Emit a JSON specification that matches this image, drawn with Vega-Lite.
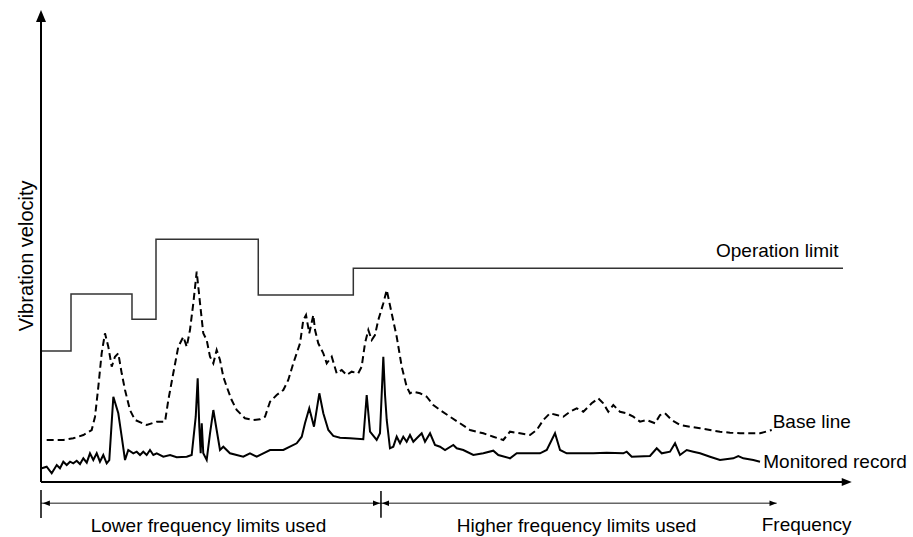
{
  "$schema": "https://vega.github.io/schema/vega-lite/v6.json",
  "width": 811,
  "height": 472,
  "autosize": {"type": "none"},
  "padding": {"left": 41, "top": 10, "right": 61, "bottom": 55},
  "background": "white",
  "config": {"view": {"stroke": null}},
  "datasets": {
    "limit": [
      {"f": 0, "v": 27.75}, {"f": 3.70, "v": 39.83}, {"f": 11.22, "v": 34.47},
      {"f": 14.18, "v": 51.42}, {"f": 26.79, "v": 39.62}, {"f": 38.51, "v": 45.28},
      {"f": 98.89, "v": 45.28}
    ],
    "baseline": [
      {"f":0.70,"v":8.90},{"f":2.75,"v":8.90},{"f":3.98,"v":9.26},{"f":5.22,"v":9.96},{"f":6.25,"v":11.02},
      {"f":6.66,"v":13.83},{"f":7.07,"v":20.19},{"f":7.48,"v":27.27},{"f":7.89,"v":31.50},{"f":8.30,"v":28.67},
      {"f":8.72,"v":24.43},{"f":9.12,"v":26.55},{"f":9.53,"v":27.27},{"f":9.95,"v":23.03},{"f":10.36,"v":19.49},
      {"f":10.97,"v":15.25},{"f":11.59,"v":13.14},{"f":13.03,"v":12.08},{"f":14.27,"v":12.78},{"f":15.29,"v":12.78},
      {"f":15.70,"v":17.37},{"f":16.31,"v":23.03},{"f":16.93,"v":28.67},{"f":17.55,"v":30.78},{"f":17.97,"v":28.67},
      {"f":18.37,"v":32.20},{"f":18.78,"v":37.86},{"f":19.20,"v":44.56},{"f":19.61,"v":37.86},{"f":20.01,"v":31.50},
      {"f":20.43,"v":30.08},{"f":20.84,"v":26.55},{"f":21.25,"v":25.15},{"f":21.66,"v":27.97},{"f":22.07,"v":25.85},
      {"f":22.48,"v":22.31},{"f":22.90,"v":20.19},{"f":23.51,"v":17.37},{"f":24.13,"v":15.25},{"f":25.15,"v":13.50},
      {"f":26.18,"v":13.14},{"f":27.00,"v":13.28},{"f":27.62,"v":13.83},{"f":28.24,"v":17.01},{"f":29.06,"v":18.43},
      {"f":29.88,"v":19.49},{"f":30.49,"v":21.61},{"f":31.11,"v":25.15},{"f":31.94,"v":29.39},{"f":32.34,"v":34.32},
      {"f":32.68,"v":35.38},{"f":33.08,"v":31.50},{"f":33.58,"v":35.38},{"f":33.79,"v":32.20},{"f":34.19,"v":29.39},
      {"f":34.81,"v":27.27},{"f":35.23,"v":25.15},{"f":35.85,"v":26.55},{"f":36.46,"v":23.03},{"f":37.08,"v":23.73},
      {"f":37.69,"v":22.67},{"f":38.31,"v":23.37},{"f":39.12,"v":23.03},{"f":39.54,"v":24.43},{"f":39.95,"v":29.39},
      {"f":40.36,"v":32.20},{"f":40.78,"v":30.08},{"f":41.18,"v":31.14},{"f":41.59,"v":34.32},{"f":42.21,"v":37.86},
      {"f":42.63,"v":40.68},{"f":43.24,"v":35.74},{"f":43.86,"v":30.78},{"f":44.48,"v":24.43},{"f":45.09,"v":20.19},
      {"f":45.50,"v":18.79},{"f":45.91,"v":19.13},{"f":46.73,"v":18.79},{"f":47.56,"v":18.07},{"f":48.37,"v":16.31},
      {"f":49.20,"v":15.25},{"f":50.43,"v":13.83},{"f":51.66,"v":12.44},{"f":52.90,"v":11.02},{"f":53.72,"v":10.66},
      {"f":54.54,"v":10.32},{"f":55.77,"v":9.60},{"f":57.00,"v":8.90},{"f":57.83,"v":10.66},{"f":59.06,"v":10.32},
      {"f":60.30,"v":9.96},{"f":61.12,"v":11.02},{"f":61.94,"v":13.14},{"f":62.76,"v":14.56},{"f":63.59,"v":14.19},
      {"f":64.40,"v":13.83},{"f":65.23,"v":14.89},{"f":66.05,"v":15.61},{"f":66.87,"v":14.89},{"f":67.90,"v":16.67},
      {"f":68.72,"v":17.73},{"f":69.33,"v":16.67},{"f":69.95,"v":14.89},{"f":70.57,"v":16.31},{"f":71.39,"v":14.89},
      {"f":72.22,"v":14.56},{"f":73.03,"v":13.83},{"f":73.86,"v":12.78},{"f":74.68,"v":13.14},{"f":75.71,"v":12.44},
      {"f":76.33,"v":14.19},{"f":76.94,"v":14.56},{"f":77.77,"v":13.14},{"f":78.79,"v":12.08},{"f":80.02,"v":11.72},
      {"f":81.26,"v":11.38},{"f":82.49,"v":11.02},{"f":83.72,"v":10.66},{"f":84.96,"v":10.45},{"f":86.19,"v":10.32},
      {"f":87.42,"v":10.32},{"f":88.66,"v":10.32},{"f":90.10,"v":11.02}
    ],
    "record": [
      {"f":0.09,"v":2.90},{"f":0.70,"v":3.24},{"f":1.32,"v":1.84},{"f":1.94,"v":3.60},{"f":2.34,"v":2.90},
      {"f":2.75,"v":4.30},{"f":3.17,"v":3.60},{"f":3.58,"v":4.30},{"f":3.98,"v":3.96},{"f":4.40,"v":4.51},
      {"f":4.81,"v":3.81},{"f":5.22,"v":5.02},{"f":5.64,"v":4.09},{"f":6.04,"v":6.08},{"f":6.45,"v":4.66},
      {"f":6.87,"v":6.08},{"f":7.27,"v":4.30},{"f":7.68,"v":5.72},{"f":8.10,"v":3.96},{"f":8.42,"v":4.66},
      {"f":8.92,"v":18.07},{"f":9.53,"v":14.56},{"f":9.95,"v":9.60},{"f":10.36,"v":4.66},{"f":10.76,"v":6.78},
      {"f":11.38,"v":6.08},{"f":11.80,"v":6.42},{"f":12.21,"v":5.72},{"f":12.61,"v":6.42},{"f":13.03,"v":5.72},
      {"f":13.44,"v":6.78},{"f":13.85,"v":5.72},{"f":14.27,"v":6.08},{"f":15.08,"v":5.36},{"f":15.91,"v":5.72},
      {"f":16.73,"v":5.23},{"f":17.97,"v":5.36},{"f":18.58,"v":5.72},{"f":19.08,"v":13.83},{"f":19.32,"v":21.97},
      {"f":19.52,"v":11.72},{"f":19.69,"v":6.08},{"f":19.82,"v":12.44},{"f":20.01,"v":6.08},{"f":20.43,"v":4.66},
      {"f":20.84,"v":10.32},{"f":21.25,"v":15.25},{"f":21.66,"v":11.02},{"f":22.07,"v":6.78},{"f":22.48,"v":7.48},
      {"f":23.30,"v":6.08},{"f":24.13,"v":5.72},{"f":24.94,"v":5.36},{"f":25.77,"v":6.08},{"f":26.60,"v":5.36},
      {"f":27.41,"v":6.08},{"f":28.24,"v":6.78},{"f":29.06,"v":6.78},{"f":29.88,"v":6.78},{"f":30.70,"v":7.48},
      {"f":31.53,"v":8.20},{"f":32.15,"v":9.60},{"f":32.55,"v":12.44},{"f":33.08,"v":15.61},{"f":33.66,"v":11.72},
      {"f":34.32,"v":18.79},{"f":34.81,"v":14.56},{"f":35.43,"v":11.02},{"f":36.04,"v":9.75},{"f":36.87,"v":9.39},
      {"f":38.10,"v":9.26},{"f":39.74,"v":9.05},{"f":40.16,"v":18.43},{"f":40.57,"v":10.66},{"f":41.39,"v":8.90},
      {"f":41.80,"v":10.32},{"f":42.21,"v":26.55},{"f":42.42,"v":18.43},{"f":42.63,"v":13.14},{"f":43.03,"v":7.14},
      {"f":43.44,"v":7.48},{"f":43.86,"v":9.60},{"f":44.27,"v":8.20},{"f":44.67,"v":9.60},{"f":45.09,"v":8.54},
      {"f":45.50,"v":9.96},{"f":45.91,"v":8.54},{"f":46.33,"v":9.26},{"f":46.94,"v":10.32},{"f":47.35,"v":8.54},
      {"f":47.97,"v":10.32},{"f":48.58,"v":7.84},{"f":49.20,"v":7.48},{"f":49.82,"v":6.78},{"f":50.84,"v":7.84},
      {"f":51.26,"v":7.14},{"f":52.07,"v":6.78},{"f":53.31,"v":5.72},{"f":54.54,"v":6.08},{"f":55.77,"v":6.63},
      {"f":56.39,"v":5.72},{"f":57.83,"v":5.02},{"f":58.66,"v":6.08},{"f":59.89,"v":6.08},{"f":61.53,"v":6.08},
      {"f":62.36,"v":6.78},{"f":63.38,"v":10.32},{"f":64.00,"v":6.78},{"f":64.82,"v":6.08},{"f":66.46,"v":6.08},
      {"f":68.10,"v":6.08},{"f":69.75,"v":6.21},{"f":71.80,"v":6.08},{"f":72.22,"v":6.42},{"f":72.84,"v":5.36},
      {"f":75.09,"v":5.51},{"f":75.92,"v":7.14},{"f":76.54,"v":6.08},{"f":77.56,"v":6.42},{"f":78.18,"v":8.20},
      {"f":78.79,"v":5.72},{"f":79.62,"v":6.78},{"f":80.43,"v":6.42},{"f":81.26,"v":6.08},{"f":82.49,"v":5.36},
      {"f":83.72,"v":4.66},{"f":85.36,"v":5.02},{"f":85.98,"v":5.51},{"f":86.60,"v":5.02},{"f":87.83,"v":4.66},
      {"f":88.66,"v":4.30}
    ],
    "rules": [
      {"part": "axis", "f": 0, "v": 0, "f2": 0, "v2": 98},
      {"part": "axis", "f": 0, "v": 0, "f2": 99, "v2": 0},
      {"part": "span", "f": 0, "v": -4.51, "f2": 90.71, "v2": -4.51},
      {"part": "tick", "f": 0, "v": -1.69, "f2": 0, "v2": -7.63},
      {"part": "tick", "f": 41.92, "v": -1.91, "f2": 41.92, "v2": -7.56}
    ],
    "heads": [
      {"part": "axis", "dir": "up", "f": 0, "v": 98.73},
      {"part": "axis", "dir": "right", "f": 99.35, "v": 0},
      {"part": "span", "dir": "left", "f": 0.66, "v": -4.51},
      {"part": "span", "dir": "right", "f": 41.37, "v": -4.51},
      {"part": "span", "dir": "left", "f": 42.48, "v": -4.51},
      {"part": "span", "dir": "right", "f": 90.26, "v": -4.51}
    ],
    "labels": [
      {"label": "Operation limit", "f": 83.23, "v": 47.6},
      {"label": "Base line", "f": 90.22, "v": 11.38},
      {"label": "Monitored record", "f": 89.06, "v": 2.97},
      {"label": "Lower frequency limits used", "f": 6.13, "v": -10.53},
      {"label": "Higher frequency limits used", "f": 51.26, "v": -10.53},
      {"label": "Frequency", "f": 88.87, "v": -10.42}
    ],
    "ytitle": [
      {"label": "Vibration velocity", "f": -0.99, "v": 47.9}
    ]
  },
  "encoding": {
    "x": {"field": "f", "type": "quantitative", "scale": {"domain": [0, 100], "nice": false, "zero": false}, "axis": null},
    "y": {"field": "v", "type": "quantitative", "scale": {"domain": [0, 100], "nice": false, "zero": false}, "axis": null}
  },
  "layer": [
    {
      "data": {"name": "limit"},
      "mark": {"type": "line", "interpolate": "step-after", "color": "#333333", "strokeWidth": 1.5},
      "encoding": {}
    },
    {
      "data": {"name": "baseline"},
      "mark": {"type": "line", "color": "black", "strokeWidth": 2, "strokeDash": [7, 4]},
      "encoding": {}
    },
    {
      "data": {"name": "record"},
      "mark": {"type": "line", "color": "black", "strokeWidth": 2, "strokeJoin": "miter", "strokeMiterLimit": 4},
      "encoding": {}
    },
    {
      "data": {"name": "rules"},
      "transform": [{"filter": "datum.part === 'axis'"}],
      "mark": {"type": "rule", "color": "black", "strokeWidth": 2},
      "encoding": {"x2": {"field": "f2"}, "y2": {"field": "v2"}}
    },
    {
      "data": {"name": "rules"},
      "transform": [{"filter": "datum.part === 'span'"}],
      "mark": {"type": "rule", "color": "#666666", "strokeWidth": 1.5},
      "encoding": {"x2": {"field": "f2"}, "y2": {"field": "v2"}}
    },
    {
      "data": {"name": "rules"},
      "transform": [{"filter": "datum.part === 'tick'"}],
      "mark": {"type": "rule", "color": "black", "strokeWidth": 1.5},
      "encoding": {"x2": {"field": "f2"}, "y2": {"field": "v2"}}
    },
    {
      "data": {"name": "heads"},
      "transform": [{"filter": "datum.part === 'axis'"}],
      "mark": {"type": "point", "filled": true, "color": "black", "opacity": 1, "size": 100},
      "encoding": {
        "shape": {"field": "dir", "type": "nominal", "legend": null,
          "scale": {"domain": ["up", "right", "left"], "range": ["M0,-1.2L1,1.2L-1,1.2Z", "M1,0L-1,-0.8L-1,0.8Z", "M-1,0L1,-0.8L1,0.8Z"]}}
      }
    },
    {
      "data": {"name": "heads"},
      "transform": [{"filter": "datum.part === 'span'"}],
      "mark": {"type": "point", "filled": true, "color": "black", "opacity": 1, "size": 49},
      "encoding": {
        "shape": {"field": "dir", "type": "nominal", "legend": null,
          "scale": {"domain": ["up", "right", "left"], "range": ["M0,-1.2L1,1.2L-1,1.2Z", "M1,0L-1,-0.8L-1,0.8Z", "M-1,0L1,-0.8L1,0.8Z"]}}
      }
    },
    {
      "data": {"name": "labels"},
      "mark": {"type": "text", "align": "left", "baseline": "alphabetic", "font": "Liberation Sans", "fontSize": 19, "color": "black"},
      "encoding": {"text": {"field": "label"}}
    },
    {
      "data": {"name": "ytitle"},
      "mark": {"type": "text", "align": "center", "baseline": "alphabetic", "angle": 270, "font": "Liberation Sans", "fontSize": 20, "color": "black"},
      "encoding": {"text": {"field": "label"}}
    }
  ]
}
